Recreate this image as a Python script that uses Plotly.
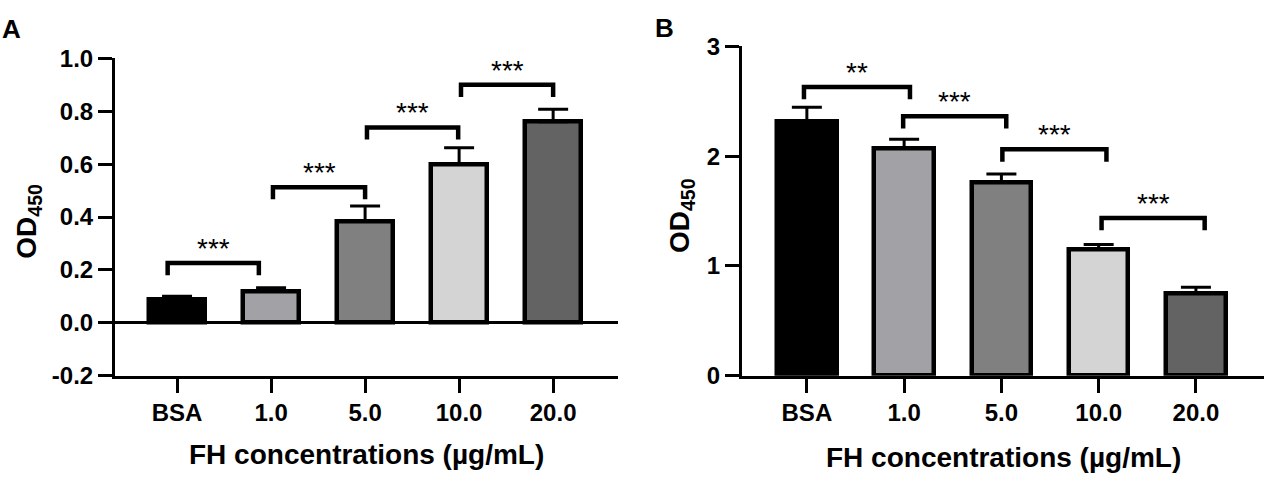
import plotly.graph_objects as go

W, H = 1264, 484

categories = ["BSA", "1.0", "5.0", "10.0", "20.0"]
bar_colors = ["#000000", "#a2a2a6", "#808080", "#d4d4d4", "#636363"]

# panel A
a_mean = [0.09, 0.12, 0.385, 0.60, 0.76]
a_err = [0.01, 0.012, 0.057, 0.062, 0.048]
a_yticks = [-0.2, 0.0, 0.2, 0.4, 0.6, 0.8, 1.0]
a_yticktext = ["-0.2", "0.0", "0.2", "0.4", "0.6", "0.8", "1.0"]
a_pairs = [(0, 1), (1, 2), (2, 3), (3, 4)]
a_bracket_y = [0.226, 0.513, 0.739, 0.90]
a_bracket_dx = [(-0.10, -0.13), (0.02, 0.0), (0.02, -0.01), (0.02, 0.0)]
a_stars = ["***", "***", "***", "***"]

# panel B
b_mean = [2.315, 2.07, 1.763, 1.152, 0.751]
b_err = [0.13, 0.085, 0.075, 0.043, 0.054]
b_yticks = [0, 1, 2, 3]
b_yticktext = ["0", "1", "2", "3"]
b_pairs = [(0, 1), (1, 2), (2, 3), (3, 4)]
b_bracket_y = [2.63, 2.363, 2.062, 1.436]
b_bracket_dx = [(-0.03, 0.06), (-0.01, 0.05), (0.01, 0.08), (0.03, 0.09)]
b_stars = ["**", "***", "***", "***"]

FONT = "Liberation Sans, Arial, sans-serif"


def px_x(p):
    return p / W


def px_y(p):
    return 1 - p / H


fig = go.Figure()
idx = list(range(len(categories)))

# bars + one-sided error bars
for mean, err, xa, ya, bw in [(a_mean, a_err, "x", "y", 0.59),
                              (b_mean, b_err, "x2", "y2", 0.61)]:
    fig.add_trace(go.Bar(
        x=idx, y=mean, width=bw, xaxis=xa, yaxis=ya,
        marker=dict(color=bar_colors, line=dict(color="black", width=4.5)),
        error_y=dict(type="data", symmetric=False, array=err,
                     arrayminus=[0] * len(err), color="black",
                     thickness=3, width=15),
    ))

# significance brackets
def add_brackets(pairs, ys, dxs, stars, leg, xa, ya):
    bx, by = [], []
    for (i, j), yv, (dl, dr), s in zip(pairs, ys, dxs, stars):
        xl, xr = i + dl, j + dr
        bx += [xl, xl, xr, xr, None]
        by += [yv - leg, yv, yv, yv - leg, None]
        fig.add_annotation(x=(xl + xr) / 2, y=yv, xref=xa, yref=ya,
                           text=s, showarrow=False, yanchor="bottom",
                           yshift=-3, font=dict(family=FONT, size=28, color="black"))
    fig.add_trace(go.Scatter(x=bx, y=by, mode="lines", xaxis=xa, yaxis=ya,
                             line=dict(color="black", width=4.5),
                             hoverinfo="skip"))


add_brackets(a_pairs, a_bracket_y, a_bracket_dx, a_stars, 0.046, "x", "y")
add_brackets(b_pairs, b_bracket_y, b_bracket_dx, b_stars, 0.112, "x2", "y2")

tickfont = dict(family=FONT, size=24, color="black", weight="bold")
common = dict(showgrid=False, showline=True, linecolor="black", linewidth=3,
              ticks="outside", ticklen=14, tickwidth=3, tickcolor="black",
              tickfont=tickfont, fixedrange=True)

fig.update_layout(
    width=W, height=H,
    margin=dict(l=0, r=0, t=0, b=0),
    paper_bgcolor="white", plot_bgcolor="white",
    showlegend=False, bargap=0,
    xaxis=dict(domain=[px_x(115), px_x(618)], range=[-0.66, 4.69],
               tickvals=idx, ticktext=categories, zeroline=False,
               anchor="y", **common),
    yaxis=dict(domain=[px_y(383), px_y(47)], range=[-0.2, 1.0],
               tickvals=a_yticks, ticktext=a_yticktext,
               zeroline=True, zerolinecolor="black", zerolinewidth=3,
               anchor="x", **common),
    xaxis2=dict(domain=[px_x(742), 1.0], range=[-0.667, 4.70],
                tickvals=idx, ticktext=categories, zeroline=False,
                anchor="y2", **common),
    yaxis2=dict(domain=[px_y(383), px_y(34.3)], range=[0, 3],
                tickvals=b_yticks, ticktext=b_yticktext, zeroline=False,
                anchor="x2", **common),
)

title_font = dict(family=FONT, size=28, color="black", weight="bold")
# x axis titles
fig.add_annotation(x=px_x(366.5), y=px_y(467), xref="paper", yref="paper",
                   text="FH concentrations (µg/mL)", showarrow=False,
                   xanchor="center", yanchor="middle", font=title_font)
fig.add_annotation(x=px_x(1003), y=px_y(469.5), xref="paper", yref="paper",
                   text="FH concentrations (µg/mL)", showarrow=False,
                   xanchor="center", yanchor="middle", font=title_font)
# y axis titles
ylab_font = dict(family=FONT, size=28, color="black", weight="bold")
fig.add_annotation(x=px_x(29), y=px_y(220), xref="paper", yref="paper",
                   text="OD<sub>450</sub>", showarrow=False, textangle=-90,
                   xanchor="center", yanchor="middle", font=ylab_font)
fig.add_annotation(x=px_x(681), y=px_y(214), xref="paper", yref="paper",
                   text="OD<sub>450</sub>", showarrow=False, textangle=-90,
                   xanchor="center", yanchor="middle", font=ylab_font)
# panel letters
letter_font = dict(family=FONT, size=26, color="black", weight="bold")
fig.add_annotation(x=px_x(0), y=px_y(16), xref="paper", yref="paper",
                   text="A", showarrow=False, xanchor="left", yanchor="middle",
                   font=letter_font)
fig.add_annotation(x=px_x(653), y=px_y(15), xref="paper", yref="paper",
                   text="B", showarrow=False, xanchor="left", yanchor="middle",
                   font=letter_font)

# drop the browser's default body margin so the figure sits at the page corner
fig.write_html("out.html", config={"displayModeBar": False},
               post_script="document.body.style.margin='0px';")
